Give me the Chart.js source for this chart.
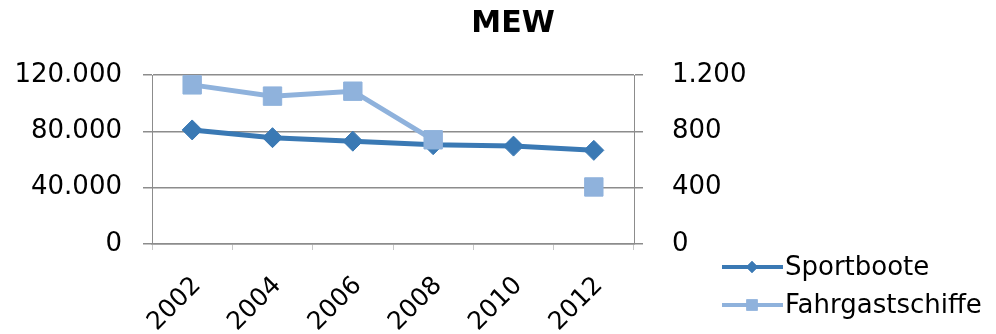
<!DOCTYPE html>
<html>
<head>
<meta charset="utf-8">
<title>MEW</title>
<script src="https://cdn.jsdelivr.net/npm/chart.js@4/dist/chart.umd.min.js"></script>
<style>
  html, body { margin: 0; padding: 0; background: #ffffff; }
  #wrap { width: 996px; height: 334px; }
</style>
</head>
<body>
<div id="wrap"><canvas id="c" width="996" height="334"></canvas></div>
<script>
// Jahre und Werte
const years = ['2002', '2004', '2006', '2008', '2010', '2012'];
const sportboote = [81000, 75500, 73000, 70500, 69500, 66500];
const fahrgastschiffe = [1130, 1050, 1085, 740, null, 405];

// Achsenbeschriftungen
const leftTicks = [0, 40000, 80000, 120000];
const rightTicks = [0, 400, 800, 1200];

const chartTitle = 'MEW';
const seriesNames = ['Sportboote', 'Fahrgastschiffe'];

const darkBlue = '#3a79b4';
const lightBlue = '#8fb2dc';
const gridGray = '#8c8c8c';
const fontFamily = '"DejaVu Sans", Verdana, sans-serif';

// Tausendertrennzeichen nach deutscher Schreibweise
function deNumber(v) {
  return String(Math.round(v)).replace(/\B(?=(\d{3})+(?!\d))/g, '.');
}

// Titel und Legende werden direkt auf die Leinwand gezeichnet
const decorations = {
  id: 'decorations',
  afterDraw(chart) {
    const ctx = chart.ctx;
    ctx.save();
    ctx.fillStyle = '#000000';
    ctx.font = 'bold 30px ' + fontFamily;
    ctx.textAlign = 'center';
    ctx.textBaseline = 'middle';
    ctx.fillText(chartTitle, 513, 24);

    const rows = [267, 305];
    chart.data.datasets.forEach((ds, i) => {
      const y = rows[i];
      ctx.strokeStyle = ds.borderColor;
      ctx.lineWidth = 4;
      ctx.beginPath();
      ctx.moveTo(722, y);
      ctx.lineTo(783, y);
      ctx.stroke();
      ctx.fillStyle = ds.borderColor;
      Chart.helpers.drawPoint(ctx, {
        pointStyle: ds.pointStyle,
        radius: i === 0 ? 6 : 8,
        rotation: 0,
        borderWidth: 0
      }, 752, y);
      ctx.fill();
      ctx.fillStyle = '#000000';
      ctx.font = '26px ' + fontFamily;
      ctx.textAlign = 'left';
      ctx.textBaseline = 'middle';
      ctx.fillText(ds.label, 785, y + 1);
    });
    ctx.restore();
  }
};

new Chart(document.getElementById('c'), {
  type: 'line',
  data: {
    labels: years,
    datasets: [
      {
        label: seriesNames[0],
        data: sportboote,
        yAxisID: 'y',
        borderColor: darkBlue,
        backgroundColor: darkBlue,
        borderWidth: 5,
        pointStyle: 'rectRot',
        pointRadius: 10,
        pointBorderWidth: 1,
        tension: 0,
        order: 1,
        clip: false
      },
      {
        label: seriesNames[1],
        data: fahrgastschiffe,
        yAxisID: 'y1',
        borderColor: lightBlue,
        backgroundColor: lightBlue,
        borderWidth: 5,
        pointStyle: 'rect',
        pointRadius: 13,
        pointBorderWidth: 1,
        tension: 0,
        spanGaps: false,
        order: 0,
        clip: false
      }
    ]
  },
  options: {
    responsive: false,
    animation: false,
    devicePixelRatio: 1,
    layout: { padding: { top: 75, left: 0, right: 0, bottom: 0 } },
    plugins: {
      legend: { display: false },
      title: { display: false },
      tooltip: { enabled: false }
    },
    scales: {
      x: {
        type: 'category',
        offset: true,
        grid: {
          display: true,
          offset: true,
          drawOnChartArea: false,
          drawTicks: true,
          tickLength: 6,
          color: '#c8c8c8'
        },
        border: { display: true, color: gridGray, width: 1.5 },
        ticks: {
          autoSkip: false,
          maxRotation: 45,
          minRotation: 45,
          padding: 21,
          labelOffset: 5,
          color: '#000000',
          font: { family: fontFamily, size: 25 }
        },
        afterFit(scale) { scale.height = 90; }
      },
      y: {
        position: 'left',
        min: leftTicks[0],
        max: leftTicks[leftTicks.length - 1],
        afterBuildTicks(scale) { scale.ticks = leftTicks.map(v => ({ value: v })); },
        grid: {
          color: gridGray,
          lineWidth: 1.5,
          tickLength: 9,
          drawTicks: true
        },
        border: { display: true, color: gridGray, width: 1 },
        ticks: {
          padding: 21,
          color: '#000000',
          font: { family: fontFamily, size: 26 },
          callback: v => deNumber(v)
        },
        afterFit(scale) { scale.width = 152; }
      },
      y1: {
        position: 'right',
        min: rightTicks[0],
        max: rightTicks[rightTicks.length - 1],
        afterBuildTicks(scale) { scale.ticks = rightTicks.map(v => ({ value: v })); },
        grid: {
          drawOnChartArea: false,
          drawTicks: true,
          tickLength: 9,
          color: gridGray,
          lineWidth: 1.5
        },
        border: { display: true, color: gridGray, width: 1 },
        ticks: {
          padding: 29,
          color: '#000000',
          font: { family: fontFamily, size: 26 },
          callback: v => deNumber(v)
        },
        afterFit(scale) { scale.width = 362; }
      }
    }
  },
  plugins: [decorations]
});
</script>
</body>
</html>
